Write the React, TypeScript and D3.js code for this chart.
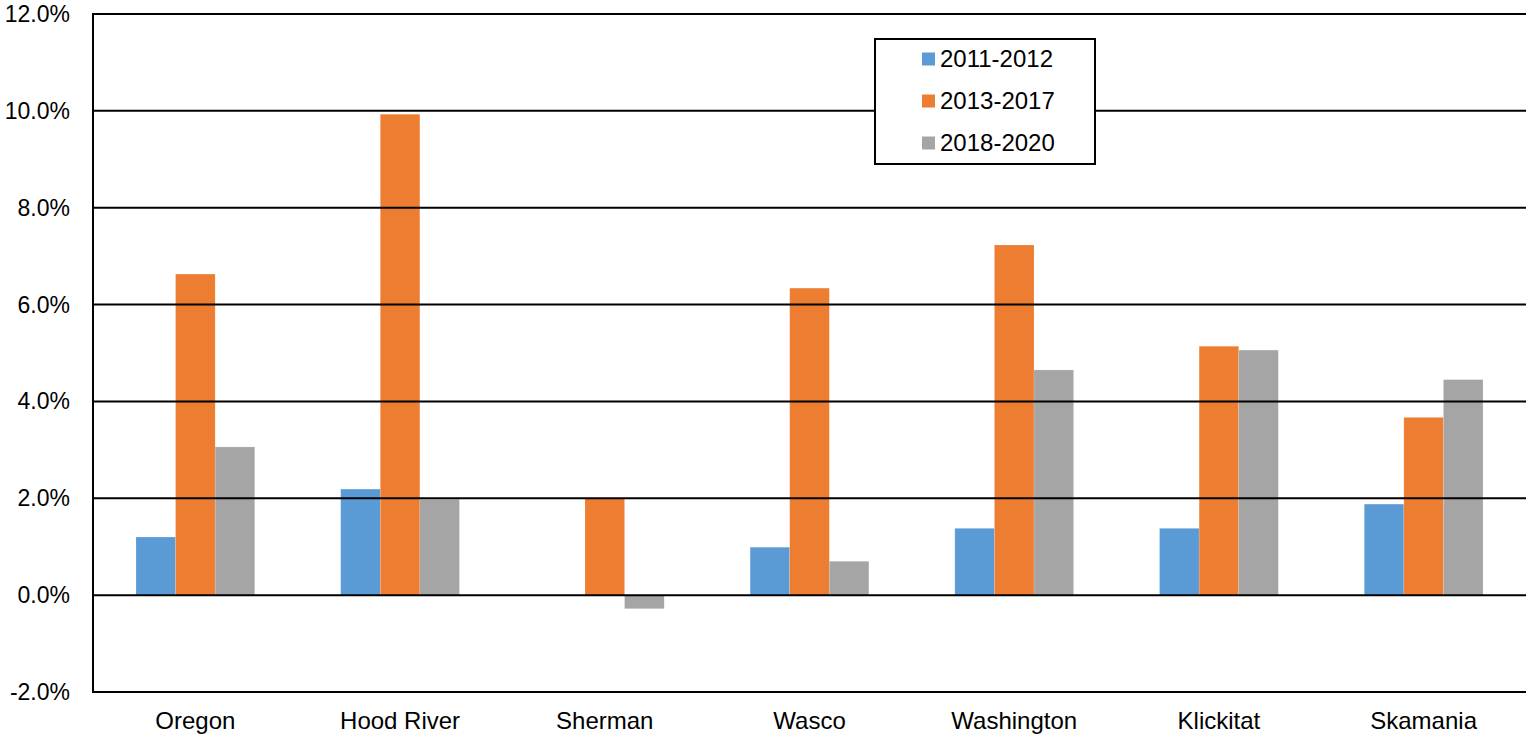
import React from "react";
import * as d3 from "d3";

const categories = ["Oregon", "Hood River", "Sherman", "Wasco", "Washington", "Klickitat", "Skamania"];
const seriesNames = ["2011-2012", "2013-2017", "2018-2020"];
const s2011 = [1.2, 2.19, 0, 0.99, 1.38, 1.38, 1.88];
const s2013 = [6.63, 9.93, 2.0, 6.34, 7.23, 5.14, 3.67];
const s2018 = [3.06, 1.98, -0.28, 0.7, 4.65, 5.06, 4.45];
const colors = ["#5B9BD5", "#ED7D31", "#A5A5A5"];
const yTicks = [-2, 0, 2, 4, 6, 8, 10, 12];

export default function App() {
  const W = 1526, H = 737;
  const left = 93, right = 1526, top = 14, bottom = 692;
  const series = [s2011, s2013, s2018];
  const x = d3.scaleBand<string>().domain(categories).range([left, right]).paddingInner(0.42).paddingOuter(0.21);
  const x1 = d3.scaleBand<number>().domain([0, 1, 2]).range([0, x.bandwidth()]);
  const y = d3.scaleLinear().domain([-2, 12]).range([bottom, top]);
  const font = "Liberation Sans, Arial, sans-serif";
  return (
    <svg width={W} height={H} style={{ position: "absolute", left: 0, top: 0, background: "#fff" }}>
      {series.map((vals, si) =>
        vals.map((v, ci) =>
          v === 0 ? null : (
            <rect key={`${si}-${ci}`} x={(x(categories[ci]) as number) + (x1(si) as number)} width={x1.bandwidth()}
              y={y(Math.max(0, v))} height={Math.abs(y(v) - y(0))} fill={colors[si]} stroke="#fff" strokeOpacity={0.3} strokeWidth={0.5} />
          )
        )
      )}
      {yTicks.map((t) => (
        <g key={t}>
          <line x1={left} x2={right} y1={y(t)} y2={y(t)} stroke="#000" strokeWidth={2} />
          <text x={70} y={y(t)} dy="0.35em" textAnchor="end" fontFamily={font} fontSize={23} fill="#000">{t.toFixed(1)}%</text>
        </g>
      ))}
      <line x1={left} x2={left} y1={top - 1} y2={bottom + 1} stroke="#000" strokeWidth={2} />
      {categories.map((c) => (
        <text key={c} x={(x(c) as number) + x.bandwidth() / 2} y={721} dy="0.35em" textAnchor="middle" fontFamily={font} fontSize={24} fill="#000">{c}</text>
      ))}
      <rect x={875} y={39} width={220} height={125} fill="#fff" stroke="#000" strokeWidth={2} />
      {seriesNames.map((n, i) => (
        <g key={n}>
          <rect x={922} y={59 + i * 42 - 6.5} width={13} height={13} fill={colors[i]} />
          <text x={940} y={59 + i * 42} dy="0.35em" fontFamily={font} fontSize={24} fill="#000">{n}</text>
        </g>
      ))}
    </svg>
  );
}
